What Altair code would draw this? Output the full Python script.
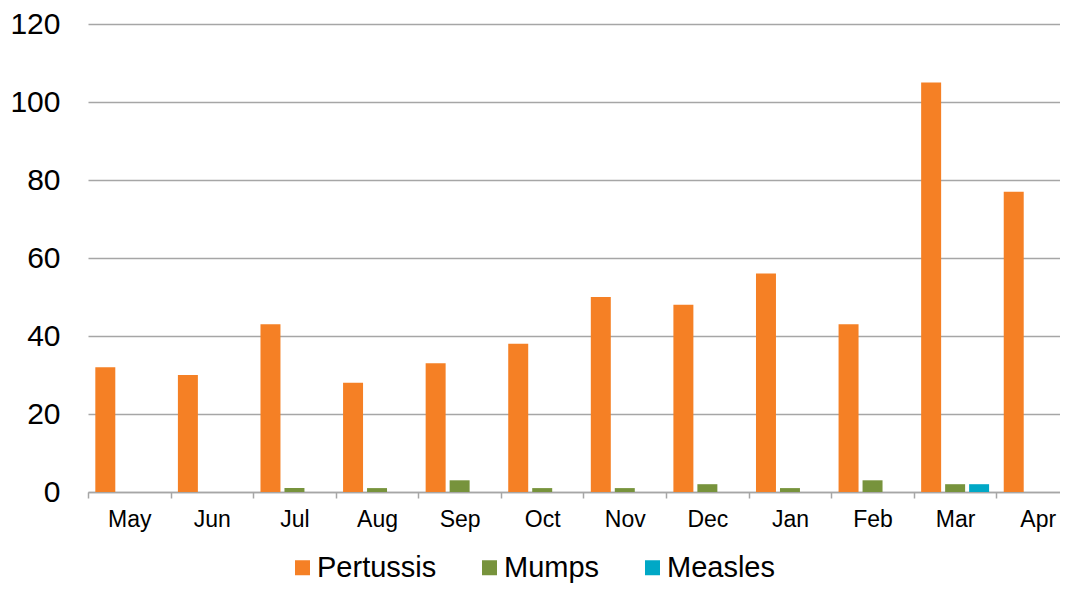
import altair as alt
import pandas as pd

months = ["May", "Jun", "Jul", "Aug", "Sep", "Oct", "Nov", "Dec", "Jan", "Feb", "Mar", "Apr"]
series = ["Pertussis", "Mumps", "Measles"]
pertussis = [32, 30, 43, 28, 33, 38, 50, 48, 56, 43, 105, 77]
mumps = [0, 0, 1, 1, 3, 1, 1, 2, 1, 3, 2, 0]
measles = [0, 0, 0, 0, 0, 0, 0, 0, 0, 0, 2, 0]
colors = ["#F58025", "#77933C", "#00A8C6"]
y_ticks = [0, 20, 40, 60, 80, 100, 120]

rows = []
for name, vals in zip(series, [pertussis, mumps, measles]):
    for m, v in zip(months, vals):
        rows.append({"month": m, "series": name, "value": v})
df = pd.DataFrame(rows)

FONT = "Liberation Sans"

chart = alt.Chart(df).mark_bar().encode(
    x=alt.X("month:N", sort=months, title=None,
            scale=alt.Scale(range=[0, 991], paddingInner=0, paddingOuter=0),
            axis=alt.Axis(labelAngle=0, tickBand="extent", tickSize=6, tickColor="#A6A6A6",
                          tickWidth=1.5, domainColor="#A6A6A6", domainWidth=1.5,
                          labelFontSize=23, labelFont=FONT, labelColor="#000000",
                          labelPadding=10, grid=False)),
    xOffset=alt.XOffset("series:N", sort=series,
                        scale=alt.Scale(paddingInner=0.1667, paddingOuter=0.305)),
    y=alt.Y("value:Q", title=None,
            scale=alt.Scale(domain=[0, 120], nice=False),
            axis=alt.Axis(values=y_ticks, domain=False, ticks=False, labelFontSize=30,
                          labelFont=FONT, labelColor="#000000", labelPadding=28,
                          gridColor="#A6A6A6", gridWidth=1.5)),
    color=alt.Color("series:N", sort=series,
                    scale=alt.Scale(domain=series, range=colors),
                    legend=alt.Legend(title=None, orient="none", direction="horizontal",
                                      legendX=200, legendY=529, symbolType="square",
                                      symbolSize=225, symbolStrokeWidth=0, labelOffset=0,
                                      columnPadding=38, labelFontSize=29, labelFont=FONT,
                                      labelColor="#000000", padding=0)),
).properties(
    width=972, height=468,
    autosize=alt.AutoSizeParams(type="none"),
    padding={"left": 80, "top": 16, "right": 0, "bottom": 92},
).configure_view(stroke=None)

chart.save("out.html", embed_options={"renderer": "svg", "actions": False})
